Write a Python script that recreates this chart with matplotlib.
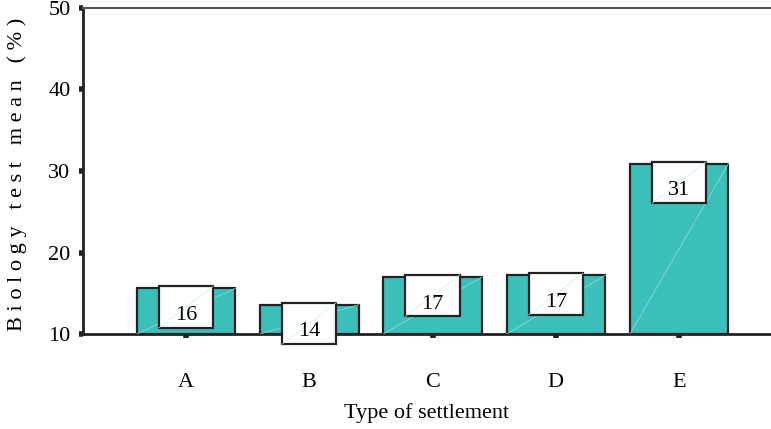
import numpy as np
import matplotlib.pyplot as plt
from matplotlib.patches import Rectangle

plt.rcParams['font.family'] = ['Liberation Serif', 'DejaVu Serif']

settlements = ['A', 'B', 'C', 'D', 'E']
means = [15.6, 13.6, 17.0, 17.2, 30.9]
labels = ['16', '14', '17', '17', '31']

fig = plt.figure(figsize=(7.71, 4.29), dpi=100)
ax = fig.add_axes([0.1077, 0.2214, 0.8923, 0.76])

x = np.arange(len(settlements))
ax.bar(x, np.array(means) - 10, bottom=10, width=0.8, color='#3bbfbb',
       edgecolor='#222222', linewidth=1.6, zorder=2)

# faint diagonal streaks inside the bars
for xi, m in zip(x, means):
    ax.plot([xi - 0.4, xi + 0.4], [10, m], color='#9cdfdc', lw=0.5, zorder=3)

# value boxes
bw, bh = 0.44, 5.1
for xi, m, lab in zip(x, means, labels):
    top = m + 0.25
    ax.add_patch(Rectangle((xi - bw / 2, top - bh), bw, bh, facecolor='white',
                           edgecolor='#222222', linewidth=1.6, zorder=4, clip_on=False))
    ax.plot([xi - bw / 2, xi + bw / 2], [top - bh, top], color='#c4eeec', lw=0.5, zorder=5,
            clip_on=False)
    ax.text(xi, top - bh * 0.7, lab, ha='center', va='center', fontsize=16, zorder=6)

ax.set_xlim(-0.835, 4.745)
ax.set_ylim(10, 50)
ax.set_yticks([10, 20, 30, 40, 50])
ax.set_xticks(x)
ax.set_xticklabels(settlements)
ax.tick_params(axis='both', labelsize=16, direction='out', length=3, width=4, color='#222222')
ax.tick_params(axis='x', pad=25)
ax.tick_params(axis='y', pad=6)

ax.spines['right'].set_visible(False)
ax.spines['left'].set_linewidth(2)
ax.spines['bottom'].set_linewidth(2)
ax.spines['left'].set_color('#222222')
ax.spines['bottom'].set_color('#222222')
ax.spines['top'].set_linewidth(1.5)
ax.spines['top'].set_color('#555555')

ax.set_xlabel('Type of settlement', fontsize=16, labelpad=8)
ax.set_ylabel('B i o l o g y   t e s t   m e a n   ( % )', fontsize=16)
ax.yaxis.set_label_coords(-0.082, 0.49)

fig.savefig('out.png', dpi=100)
